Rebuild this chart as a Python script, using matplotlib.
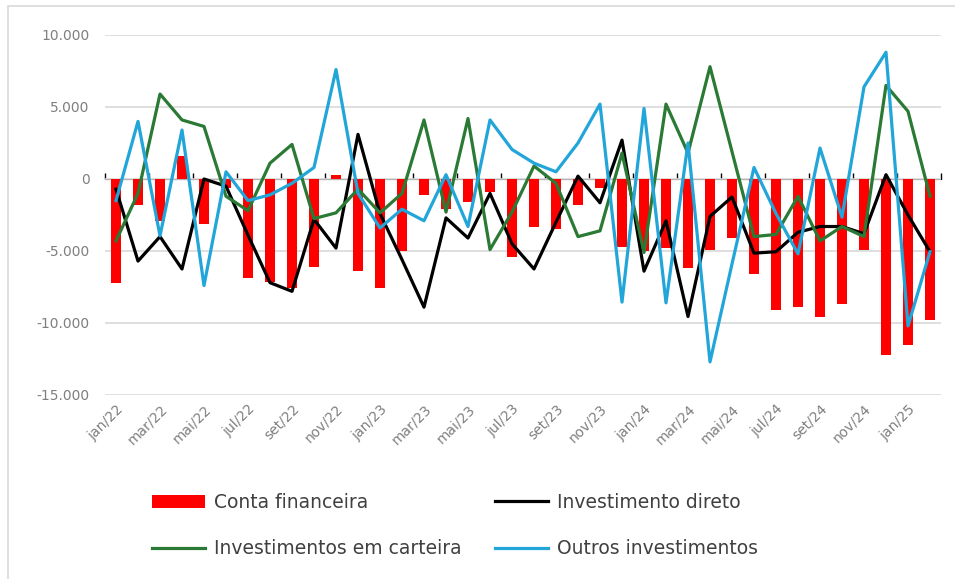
import matplotlib
matplotlib.use('Agg')
import matplotlib.pyplot as plt
from matplotlib.patches import Rectangle
import numpy as np

# mensal, jan/22 .. fev/25 (US$ milhões)
meses = ['jan/22', 'fev/22', 'mar/22', 'abr/22', 'mai/22', 'jun/22', 'jul/22', 'ago/22',
         'set/22', 'out/22', 'nov/22', 'dez/22', 'jan/23', 'fev/23', 'mar/23', 'abr/23',
         'mai/23', 'jun/23', 'jul/23', 'ago/23', 'set/23', 'out/23', 'nov/23', 'dez/23',
         'jan/24', 'fev/24', 'mar/24', 'abr/24', 'mai/24', 'jun/24', 'jul/24', 'ago/24',
         'set/24', 'out/24', 'nov/24', 'dez/24', 'jan/25', 'fev/25']

conta_financeira = [-7200, -1800, -2900, 1600, -3150, -600, -6900, -7150,
                    -7600, -6100, 300, -6400, -7600, -5000, -1100, -2100,
                    -1600, -900, -5400, -3300, -3500, -1800, -600, -4700,
                    -5000, -4800, -6200, -4950, -4100, -6600, -9100, -8900,
                    -9550, -8700, -4950, -12200, -11500, -9800]

investimento_direto = [-700, -5700, -4000, -6250, 0, -500, -3900, -7200,
                       -7800, -2800, -4800, 3100, -2400, -5600, -8900, -2700,
                       -4100, -1000, -4500, -6250, -3000, 200, -1650, 2700,
                       -6400, -2900, -9550, -2600, -1250, -5150, -5050, -3700,
                       -3300, -3300, -3800, 300, -2500, -5050]

investimentos_carteira = [-4300, -1000, 5900, 4100, 3650, -1200, -2200, 1100,
                          2400, -2750, -2350, -700, -2350, -1000, 4100, -2300,
                          4200, -4900, -2300, 900, -300, -4000, -3600, 1800,
                          -5100, 5200, 1800, 7800, 1900, -4000, -3850, -1200,
                          -4300, -3300, -4000, 6500, 4700, -1200]

outros_investimentos = [-1500, 4000, -3950, 3400, -7400, 500, -1500, -1100,
                        -300, 800, 7600, -1000, -3400, -2100, -2900, 300,
                        -3300, 4100, 2050, 1100, 500, 2500, 5200, -8550,
                        4900, -8600, 2500, -12700, -5900, 800, -2400, -5200,
                        2150, -2650, 6400, 8800, -10200, -5050]

fig = plt.figure(figsize=(9.55, 5.79), dpi=100)
W, H = 955, 579
ax = fig.add_axes([105 / W, 1 - 395 / H, 836 / W, 360 / H])

x = np.arange(len(meses))
gray = '#7f7f7f'

ax.set_axisbelow(True)
ax.yaxis.grid(True, color='#d9d9d9', linewidth=1.2)
b = ax.bar(x, conta_financeira, width=0.45, color='#ff0000', zorder=2)
l1, = ax.plot(x, investimento_direto, color='black', lw=2.3, zorder=3)
l2, = ax.plot(x, investimentos_carteira, color='#2a7a35', lw=2.3, zorder=4)
l3, = ax.plot(x, outros_investimentos, color='#22a6d9', lw=2.3, zorder=5)

ax.set_xlim(-0.5, len(meses) - 0.5)
ax.set_ylim(-15000, 10000)
ax.set_yticks([10000, 5000, 0, -5000, -10000, -15000])
ax.set_yticklabels(['10.000', '5.000', '0', '-5.000', '-10.000', '-15.000'])
ax.tick_params(axis='y', length=0, pad=11, labelsize=10, labelcolor=gray)

ax.set_xticks(x[::2])
ax.set_xticklabels(meses[::2], rotation=45, ha='right', rotation_mode='anchor')
ax.tick_params(axis='x', length=0, pad=5, labelsize=10, labelcolor=gray)
for s in ax.spines.values():
    s.set_visible(False)

# eixo horizontal no zero, com marcas a cada 2 meses
zero = ax.secondary_xaxis(15000 / 25000)
zero.set_xticks(np.arange(-0.5, len(meses), 2))
zero.set_xticklabels([])
zero.tick_params(direction='out', length=4, width=1, color='black')
zero.spines['bottom'].set_color('black')
zero.spines['bottom'].set_linewidth(1.2)

handles = [b, l2, l1, l3]
labels = ['Conta financeira', 'Investimentos em carteira',
          'Investimento direto', 'Outros investimentos']
leg = fig.legend(handles, labels, ncol=2, loc='upper left',
                 bbox_to_anchor=(152 / W, 1 - 493 / H), frameon=False,
                 borderpad=0, borderaxespad=0,
                 fontsize=13.5, handlelength=2.8, handletextpad=0.5,
                 columnspacing=1.8, labelspacing=1.45)
for t in leg.get_texts():
    t.set_color('#404040')

# moldura do gráfico
fig.patches.append(Rectangle((8 / W, -0.1), 1.2, 1 - 6 / H + 0.1,
                             transform=fig.transFigure, fill=False,
                             edgecolor='#d9d9d9', linewidth=1.2))

fig.savefig('out.png', dpi=100)
